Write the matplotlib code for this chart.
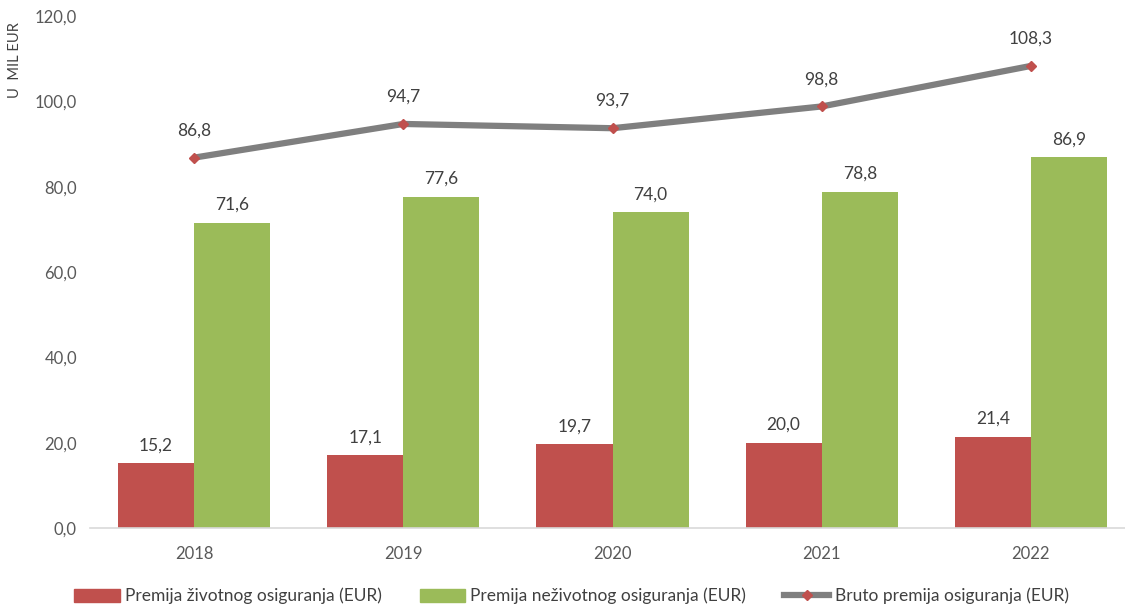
import numpy as np
import matplotlib as mpl
import matplotlib.pyplot as plt
from matplotlib.lines import Line2D
from matplotlib.patches import Patch

years = ["2018", "2019", "2020", "2021", "2022"]
zivotno = [15.2, 17.1, 19.7, 20.0, 21.4]
nezivotno = [71.6, 77.6, 74.0, 78.8, 86.9]
bruto = [86.8, 94.7, 93.7, 98.8, 108.3]

RED = "#c0504d"
GREEN = "#9bbb59"
GRAY = "#7f7f7f"
TXT = "#404040"

plt.rcParams["font.family"] = ["Lato", "DejaVu Sans"]


def fmt(v):
    return f"{v:.1f}".replace(".", ",")


fig = plt.figure(figsize=(11.25, 6.1), dpi=100)
ax = fig.add_axes([89.5 / 1125, 82 / 610, 1046 / 1125, 512 / 610])

x = np.arange(len(years))
w = 0.364
ax.bar(x - w / 2, zivotno, w, color=RED, zorder=2)
ax.bar(x + w / 2, nezivotno, w, color=GREEN, zorder=2)
ax.plot(x, bruto, color=GRAY, lw=4.5, zorder=3, solid_capstyle="butt")
ax.plot(x, bruto, ls="none", marker="D", ms=5, color=RED, zorder=4)

for i in x:
    ax.text(i - w / 2, zivotno[i] + 2.3, fmt(zivotno[i]), ha="center", va="bottom",
            fontsize=12.5, color=TXT)
    ax.text(i + w / 2, nezivotno[i] + 2.3, fmt(nezivotno[i]), ha="center", va="bottom",
            fontsize=12.5, color=TXT)
    ax.text(i, bruto[i] + 4.5, fmt(bruto[i]), ha="center", va="bottom",
            fontsize=12.5, color=TXT)

ax.set_xlim(-0.5, 4.5)
ax.set_ylim(0, 120)
ax.set_yticks(np.arange(0, 121, 20))
ax.yaxis.set_major_formatter(mpl.ticker.FuncFormatter(lambda v, p: fmt(v)))
ax.set_xticks(x)
ax.set_xticklabels(years)
ax.tick_params(length=0, labelsize=12, colors="#595959")
ax.tick_params(axis="x", pad=13)
ax.tick_params(axis="y", pad=9)
for s in ["top", "right", "left"]:
    ax.spines[s].set_visible(False)
ax.spines["bottom"].set_color("#d9d9d9")
ax.spines["bottom"].set_linewidth(1.2)

fig.text(15 / 1125, 1 - 60 / 610, "U  MIL EUR", rotation=90, ha="center", va="center",
         fontsize=10.5, color="#404040")

handles = [
    Patch(color=RED, label="Premija životnog osiguranja (EUR)"),
    Patch(color=GREEN, label="Premija neživotnog osiguranja (EUR)"),
    Line2D([], [], color=GRAY, lw=4.5, marker="D", ms=5, mfc=RED, mec=RED,
           label="Bruto premija osiguranja (EUR)"),
]
fig.legend(handles=handles, loc="center", bbox_to_anchor=(0.508, 1 - 596 / 610), ncol=3,
           frameon=False, fontsize=12.5, handlelength=2.6, handleheight=0.8,
           handletextpad=0.3, columnspacing=2.2, labelcolor=TXT)

fig.savefig("out.png", dpi=100)
